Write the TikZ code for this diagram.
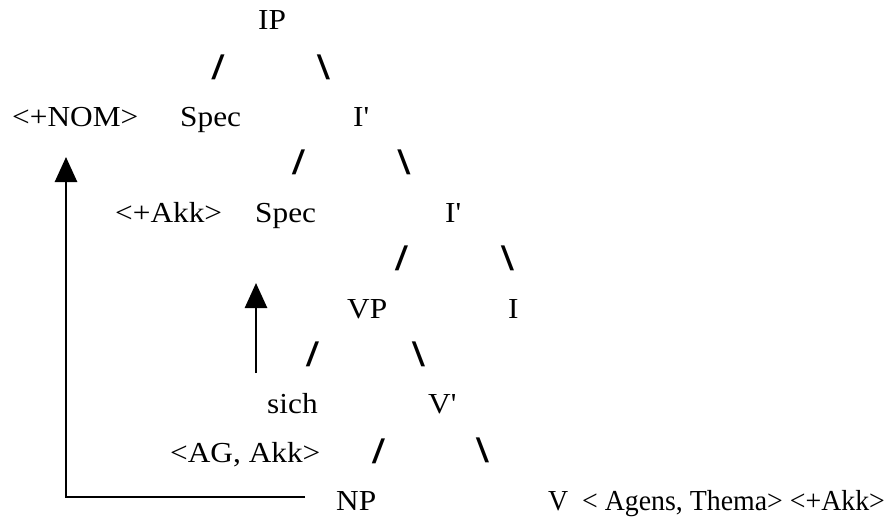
\documentclass[tikz,border=0pt]{standalone}
\usepackage{fontspec}
\setmainfont{Liberation Serif}
\newfontfamily\slashfont{Liberation Sans}
\usetikzlibrary{arrows.meta}
\begin{document}
\begin{tikzpicture}[x=1pt,y=-1pt,
  lbl/.style={anchor=base west,inner sep=0pt,xscale=1.08,font=\fontsize{29}{34}\selectfont},
  br/.style={anchor=center,inner sep=0pt,xscale=1.4,font=\slashfont\fontsize{34}{38}\selectfont},
  mv/.style={line width=2.7pt,-{Triangle[length=25pt,width=22pt]}}]
\useasboundingbox (0,0) rectangle (887,517);
% row 1
\node[lbl] (ip) at (258,29) {IP};
% row 2
\node[br] (b1) at (218,67) {/};
\node[br] (b2) at (323.5,67) {\textbackslash};
% row 3
\node[lbl] (nom) at (12,126) {<+NOM>};
\node[lbl] (spec1) at (180,126) {Spec};
\node[lbl] (ib1) at (353,126) {I\textquotesingle};
% row 4
\node[br] (b3) at (298.5,162) {/};
\node[br] (b4) at (404,162) {\textbackslash};
% row 5
\node[lbl] (akk) at (115,222) {<+Akk>};
\node[lbl] (spec2) at (255,222) {Spec};
\node[lbl] (ib2) at (445,222) {I\textquotesingle};
% row 6
\node[br] (b5) at (401.5,258) {/};
\node[br] (b6) at (507.5,258) {\textbackslash};
% row 7
\node[lbl] (vp) at (347,318) {VP};
\node[lbl] (i) at (508,318) {I};
% row 8
\node[br] (b7) at (312.5,354) {/};
\node[br] (b8) at (418.5,354) {\textbackslash};
% row 9
\node[lbl] (sich) at (267,413) {sich};
\node[lbl] (vb) at (428,413) {V\textquotesingle};
% row 10
\node[lbl] (agakk) at (170,462) {<AG, Akk>};
\node[br] (b9) at (378.5,451) {/};
\node[br] (b10) at (482.5,450) {\textbackslash};
% row 11
\node[lbl] (np) at (336,510) {NP};
\node[lbl,xscale=0.96/1.08] (v) at (548,510) {V\ \ < Agens, Thema> <+Akk>};
% movement arrows
\coordinate (s1) at (305,497);
\coordinate (c1) at (66,497);
\coordinate (t1) at (66,157);
\coordinate (s2) at (256,373);
\coordinate (t2) at (256,283);
\draw[mv] (s1) -- (c1) -- (t1);
\draw[mv] (s2) -- (t2);
\end{tikzpicture}
\end{document}
